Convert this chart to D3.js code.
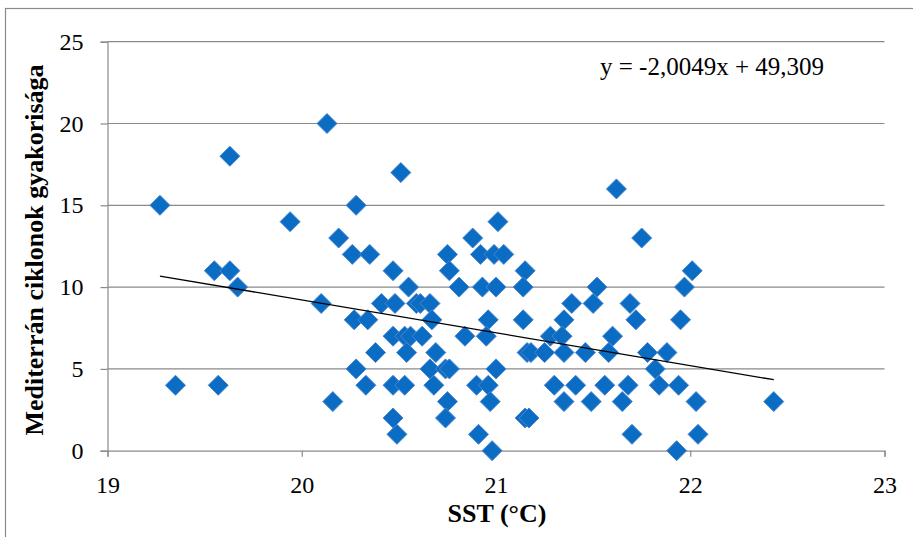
<!DOCTYPE html>
<html><head><meta charset="utf-8">
<script src="https://cdn.jsdelivr.net/npm/d3@7"></script>
<style>body{margin:0;background:#fff}svg{display:block}</style>
</head><body>
<svg id="c" width="913" height="537"></svg>
<script>
// Data: SST (°C) values grouped by cyclone frequency
const sst = [
  20.13, 19.63, 20.51, 21.62,
  19.27, 20.28,
  19.94, 21.01,
  20.19, 20.88, 21.75,
  20.26, 20.35, 20.75, 20.92, 20.99, 21.04,
  19.55, 19.63, 20.47, 20.76, 21.15, 22.01,
  19.67, 20.55, 20.81, 20.93, 21.00, 21.14, 21.52, 21.97,
  20.10, 20.41, 20.48, 20.59, 20.61, 20.66, 21.39, 21.50, 21.69,
  20.27, 20.34, 20.67, 20.96, 21.14, 21.35, 21.72, 21.95,
  20.47, 20.53, 20.56, 20.62, 20.84, 20.95, 21.28, 21.34, 21.60,
  20.38, 20.54, 20.69, 21.16, 21.18, 21.25, 21.35, 21.46, 21.58, 21.78, 21.88,
  20.28, 20.66, 20.74, 20.76, 21.00, 21.82,
  19.35, 19.57, 20.33, 20.47, 20.53, 20.68, 20.90, 20.96, 21.30, 21.41, 21.56, 21.68, 21.84, 21.94,
  20.16, 20.75, 20.97, 21.35, 21.49, 21.65, 22.03, 22.43,
  20.47, 20.74, 21.15, 21.17,
  20.49, 20.91, 21.70, 22.04,
  20.98, 21.93
];
const freq = [
  20, 18, 17, 16,
  15, 15,
  14, 14,
  13, 13, 13,
  12, 12, 12, 12, 12, 12,
  11, 11, 11, 11, 11, 11,
  10, 10, 10, 10, 10, 10, 10, 10,
  9, 9, 9, 9, 9, 9, 9, 9, 9,
  8, 8, 8, 8, 8, 8, 8, 8,
  7, 7, 7, 7, 7, 7, 7, 7, 7,
  6, 6, 6, 6, 6, 6, 6, 6, 6, 6, 6,
  5, 5, 5, 5, 5, 5,
  4, 4, 4, 4, 4, 4, 4, 4, 4, 4, 4, 4, 4, 4,
  3, 3, 3, 3, 3, 3, 3, 3,
  2, 2, 2, 2,
  1, 1, 1, 1,
  0, 0
];
const xTicks = [19, 20, 21, 22, 23];
const yTicks = [0, 5, 10, 15, 20, 25];
const trendSlope = -2.0049;
const trendIntercept = 49.309;
const trendLabel = "y = -2,0049x + 49,309";
const xTitle = "SST (°C)";
const yTitle = "Mediterrán ciklonok gyakorisága";

const svg = d3.select("#c");
const L = 107.5, R = 884.5, T = 41.7, B = 450.7;
const x = d3.scaleLinear().domain([19, 23]).range([L, R]);
const y = d3.scaleLinear().domain([0, 25]).range([B, T]);
const font = "'Liberation Serif','Times New Roman',serif";
const grid = "#8a8a8a";

// outer chart border
svg.append("rect").attr("x", 5.5).attr("y", 8.5).attr("width", 920).attr("height", 540)
  .attr("fill", "none").attr("stroke", "#8a8a8a").attr("stroke-width", 1.2);

// gridlines
svg.append("g").selectAll("line").data(yTicks.filter(d => d > 0)).join("line")
  .attr("x1", L).attr("x2", R).attr("y1", d => y(d)).attr("y2", d => y(d))
  .attr("stroke", grid).attr("stroke-width", 1.2);

// y axis
const ya = svg.append("g").attr("transform", `translate(${L},0)`)
  .call(d3.axisLeft(y).tickValues(yTicks).tickSize(7).tickPadding(17).tickFormat(d3.format("d")));
ya.select(".domain").attr("stroke", grid).attr("stroke-width", 1.2);
ya.selectAll(".tick line").attr("stroke", grid).attr("stroke-width", 1.2);
ya.selectAll("text").attr("font-family", font).attr("font-size", 24).attr("fill", "#000");

// x axis
const xa = svg.append("g").attr("transform", `translate(0,${B})`)
  .call(d3.axisBottom(x).tickValues(xTicks).tickSize(6).tickPadding(19).tickFormat(d3.format("d")));
xa.select(".domain").attr("stroke", grid).attr("stroke-width", 1.2);
xa.selectAll(".tick line").attr("stroke", grid).attr("stroke-width", 1.2);
xa.selectAll("text").attr("font-family", font).attr("font-size", 24).attr("fill", "#000");

// points
const diamond = "M0,-10L10,0L0,10L-10,0Z";
svg.append("g").selectAll("path").data(sst.map((s, i) => [s, freq[i]])).join("path")
  .attr("d", diamond)
  .attr("transform", d => `translate(${x(d[0])},${y(d[1])})`)
  .attr("fill", "#0b6cc3").attr("stroke", "#4a86cf").attr("stroke-width", 1);

// trendline
const xmin = d3.min(sst), xmax = d3.max(sst);
svg.append("line")
  .attr("x1", x(xmin)).attr("y1", y(trendSlope * xmin + trendIntercept))
  .attr("x2", x(xmax)).attr("y2", y(trendSlope * xmax + trendIntercept))
  .attr("stroke", "#000").attr("stroke-width", 1.3);

// equation
svg.append("text").attr("x", 600).attr("y", 75).attr("font-family", font)
  .attr("font-size", 25).attr("fill", "#000").text(trendLabel);

// titles
svg.append("text").attr("x", 497).attr("y", 522).attr("text-anchor", "middle")
  .attr("font-family", font).attr("font-size", 26).attr("font-weight", "bold").text(xTitle);
svg.append("text").attr("transform", `translate(43,250) rotate(-90)`)
  .attr("text-anchor", "middle").attr("font-family", font).attr("font-size", 26)
  .attr("font-weight", "bold").text(yTitle);
</script>
</body></html>
